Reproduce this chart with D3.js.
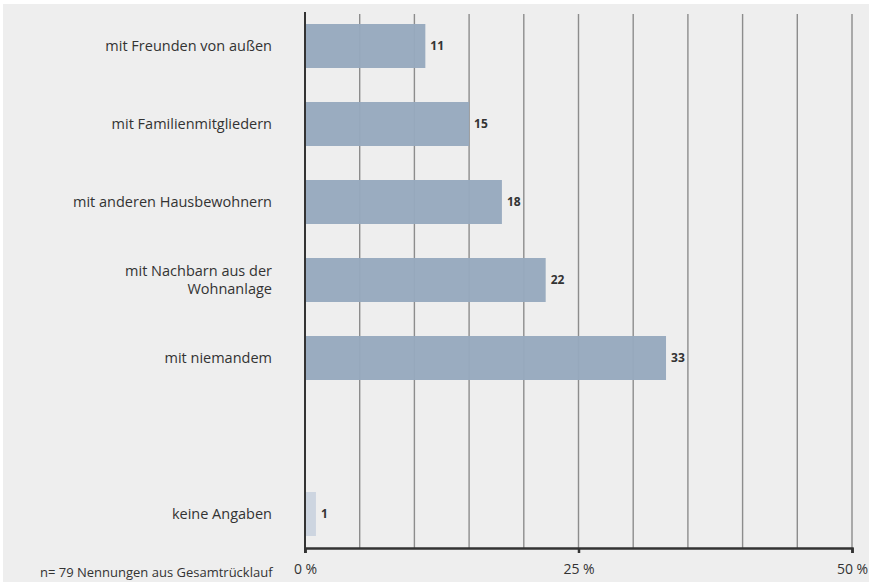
<!DOCTYPE html>
<html>
<head>
<meta charset="utf-8">
<script src="https://cdn.jsdelivr.net/npm/d3@7"></script>
<style>
  body { margin: 0; background: #ffffff; }
  svg { display: block; }
</style>
</head>
<body>
<div id="chart"></div>
<script>
// data
var categories = ["mit Freunden von außen", "mit Familienmitgliedern", "mit anderen Hausbewohnern",
    "mit Nachbarn aus der|Wohnanlage", "mit niemandem", "", "keine Angaben"];
var values = [11, 15, 18, 22, 33, null, 1];
var tickValues = [0, 25, 50];
var tickLabels = ["0 %", "25 %", "50 %"];
var gridValues = d3.range(0, 55, 5);
var footnote = "n= 79 Nennungen aus Gesamtrücklauf";

var width = 869, height = 582;
var margin = { top: 24, right: 17, bottom: 45, left: 305 };

var svg = d3.select("#chart").append("svg")
    .attr("width", width)
    .attr("height", height);

// grey panel
svg.append("rect")
    .attr("x", 3).attr("y", 4)
    .attr("width", width - 3).attr("height", height - 4)
    .attr("fill", "#eeeeee");

var xScale = d3.scaleLinear().domain([0, 50]).range([margin.left, width - margin.right]);
// step 78, bar 44
var yScale = d3.scaleBand().domain(d3.range(categories.length))
    .range([24, 24 + 78 * 6 + 44]).paddingInner(34 / 78).paddingOuter(0);

var axisY = 548;

// gridlines
svg.selectAll("line.grid").data(gridValues.slice(1)).enter().append("line")
    .attr("class", "grid")
    .attr("x1", function (d) { return xScale(d); })
    .attr("x2", function (d) { return xScale(d); })
    .attr("y1", 14).attr("y2", axisY)
    .attr("stroke", "#8c8c8c")
    .attr("stroke-width", 1.4);

// bars
var rows = categories.map(function (c, i) { return { cat: c, value: values[i], i: i }; })
    .filter(function (d) { return d.value !== null; });

svg.selectAll("rect.bar").data(rows).enter().append("rect")
    .attr("class", "bar")
    .attr("x", xScale(0))
    .attr("y", function (d) { return yScale(d.i); })
    .attr("width", function (d) { return xScale(d.value) - xScale(0); })
    .attr("height", yScale.bandwidth())
    .attr("fill", function (d) { return d.cat == "keine Angaben" ? "#cbd4df" : "#97a9be"; })
    .attr("fill-opacity", 0.97);

// value labels
svg.selectAll("text.val").data(rows).enter().append("text")
    .attr("class", "val")
    .attr("x", function (d) { return xScale(d.value) + 5; })
    .attr("y", function (d) { return yScale(d.i) + yScale.bandwidth() / 2 + 4; })
    .text(function (d) { return d.value; })
    .style("font-family", "'Open Sans', sans-serif")
    .style("font-size", "12px")
    .style("font-weight", "bold")
    .style("fill", "#333");

// category labels
svg.selectAll("text.cat").data(rows).enter().append("text")
    .attr("class", "cat")
    .attr("text-anchor", "end")
    .attr("transform", function (d) {
        var lines = d.cat.split("|").length;
        return "translate(272," + (yScale(d.i) + yScale.bandwidth() / 2 + 5 - (lines - 1) * 9) + ")";
    })
    .style("font-family", "'Open Sans', sans-serif")
    .style("font-size", "14.5px")
    .style("fill", "#333")
    .each(function (d) {
        var t = d3.select(this);
        d.cat.split("|").forEach(function (l, k) {
            t.append("tspan").attr("x", 0).attr("dy", k == 0 ? 0 : 18).text(l);
        });
    });

// y axis line
svg.append("line")
    .attr("x1", xScale(0)).attr("x2", xScale(0))
    .attr("y1", 12).attr("y2", axisY + 5)
    .attr("stroke", "#333").attr("stroke-width", 2);

// x axis
var xAxis = d3.axisBottom(xScale).tickValues(tickValues).tickSize(5)
    .tickFormat(function (d, i) { return tickLabels[i]; });
var gx = svg.append("g").attr("transform", "translate(0," + axisY + ")").call(xAxis);
gx.select(".domain").attr("stroke", "#333").attr("stroke-width", 2.5);
gx.selectAll(".tick line").attr("stroke", "#333").attr("stroke-width", 2.5);
gx.selectAll(".tick text")
    .attr("y", 16)
    .style("font-family", "'Open Sans', sans-serif")
    .style("font-size", "14px")
    .style("fill", "#333");

// footnote
svg.append("text")
    .attr("x", 40).attr("y", 577)
    .text(footnote)
    .style("font-family", "'Open Sans', sans-serif")
    .style("font-size", "13px")
    .style("fill", "#333");
</script>
</body>
</html>
